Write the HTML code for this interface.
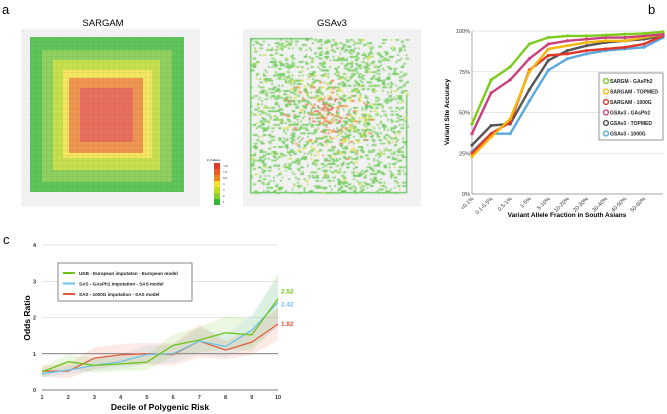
<!DOCTYPE html>
<html><head><meta charset="utf-8">
<style>
body{margin:0;background:#fff;font-family:"Liberation Sans",sans-serif;}
#wrap{position:relative;width:667px;height:414px;overflow:hidden;}
svg{position:absolute;left:0;top:0;}
canvas{position:absolute;left:0;top:0;}
</style></head><body>
<div id="wrap">
<svg id="s" width="667" height="414">
<defs>
<pattern id="gridp" width="5.2" height="5.2" patternUnits="userSpaceOnUse"><path d="M5.2 0V5.2H0" fill="none" stroke="rgba(0,0,0,0.12)" stroke-width="0.6"/></pattern>
<pattern id="gridl" width="4" height="4" patternUnits="userSpaceOnUse"><path d="M4 0V4H0" fill="none" stroke="#e6e6e6" stroke-width="0.5"/></pattern>
</defs>
<text x="2" y="14" font-size="13">a</text>
<text x="648" y="14" font-size="13">b</text>
<text x="3" y="244" font-size="13">c</text>
<text x="103" y="26" font-size="9.5" text-anchor="middle">SARGAM</text>
<text x="332" y="26" font-size="9.5" text-anchor="middle">GSAv3</text>
<g>
<rect x="21" y="29" width="179" height="178" fill="#f3f3f3"/>
<rect x="21" y="29" width="179" height="178" fill="url(#gridl)"/>
<rect x="30" y="37" width="154" height="155" fill="#5fc55a"/>
<rect x="42" y="50" width="130" height="132" fill="#8fd160"/>
<rect x="53" y="60" width="107" height="110" fill="#c6e04f"/>
<rect x="63" y="70" width="89" height="88" fill="#f4e660"/>
<rect x="69" y="78" width="74" height="75" fill="#ef9650"/>
<rect x="80" y="88" width="53" height="54" fill="#e8705e"/>
<rect x="30" y="37" width="154" height="155" fill="url(#gridp)"/>
</g>
<g>
<rect x="243" y="29" width="178" height="178" fill="#f3f3f3"/>
<rect x="243" y="29" width="178" height="178" fill="url(#gridl)"/>
</g>
<g>
<text x="207" y="161" font-size="2.8">#  of alleles</text>
<rect x="214" y="163" width="6" height="6" fill="#e53a2a"/>
<rect x="214" y="169" width="6" height="6" fill="#ea5a22"/>
<rect x="214" y="175" width="6" height="6" fill="#f0851f"/>
<rect x="214" y="181" width="6" height="6" fill="#f7de2a"/>
<rect x="214" y="187" width="6" height="6" fill="#c5dc22"/>
<rect x="214" y="193" width="6" height="6" fill="#8fcf2b"/>
<rect x="214" y="199" width="6" height="6" fill="#2fb635"/>
<g font-size="2.8" fill="#333"><text x="223" y="167">&gt;10</text><text x="223" y="173">7-9</text><text x="223" y="179">5-6</text><text x="223" y="185">4</text><text x="223" y="191">3</text><text x="223" y="197">2</text><text x="223" y="203">1</text></g>
</g>
<g id="gb"></g>
<g id="gc"></g>
</svg>
<canvas id="cv" width="667" height="414"></canvas>
</div>
<script>
// ---- panel b data ----
const bCats=["<0.1%","0.1-0.5%","0.5-1%","1-5%","5-10%","10-20%","20-30%","30-40%","40-50%","50-60%",""];
const bTicks=[0,25,50,75,100];
const bNames=["SARGM - GAsPh2","SARGAM - TOPMED","SARGAM - 1000G","GSAv3 - GAsPh2","GSAv3 - TOPMED","GSAv3 - 1000G"];
const bColors=["#7ccc1c","#f5b60d","#e1362a","#c9417e","#555555","#5aa8de"];
const sGreen=[43,70,78,92,96,97,97,97.5,98,98.5,99.5];
const sOrange=[23,35,46,75,89,91,93,94,94,96,98];
const sRed=[25,37,44,76,85,86,88,89,90,92,97];
const sMagenta=[37,62,70,83,92,94,95,96,96,97,98];
const sGrey=[30,42,43,64,82,88,91,93,94,95,97];
const sBlue=[26,37,37,57,76,83,86,88,89,90,96];
// ---- panel c data ----
const cDeciles=[1,2,3,4,5,6,7,8,9,10];
const cTicks=[0,1,2,3,4];
const cGreen=[0.5,0.78,0.68,0.72,0.77,1.23,1.38,1.58,1.52,2.52];
const cBlue=[0.45,0.55,0.68,0.78,0.98,1.0,1.35,1.2,1.65,2.42];
const cRed=[0.52,0.52,0.88,0.97,1.0,0.98,1.35,1.1,1.32,1.82];
const cGreenErr=[0.15,0.2,0.2,0.2,0.22,0.3,0.35,0.45,0.45,0.7];
const cBlueErr=[0.1,0.12,0.15,0.2,0.25,0.25,0.35,0.3,0.45,0.7];
const cRedErr=[0.15,0.2,0.3,0.3,0.3,0.3,0.45,0.25,0.35,0.45];
const cLabels=["2.52","2.42","1.82"];
const cLegend=["UKB - European imputaton - European model","SAS - GAsPh2 imputation - SAS model","SAS - 1000G imputation - SAS model"];

const NS="http://www.w3.org/2000/svg";
function mk(p,t,a){const e=document.createElementNS(NS,t);for(const k in a)e.setAttribute(k,a[k]);p.appendChild(e);return e;}

// panel b
const gb=document.getElementById('gb');
const bx0=472,bx1=663,by0=194,by1=31;
const bxs=i=>bx0+i*(bx1-bx0)/(bCats.length-1);
const bys=v=>by0+(by1-by0)*v/100;
bTicks.forEach(t=>{
 const l=mk(gb,'line',{x1:bx0,x2:bx1,y1:bys(t),y2:bys(t),stroke:t==0?'#888':'#ddd','stroke-width':0.7});
 
 
 const tx=mk(gb,'text',{x:bx0-2,y:bys(t)+2,'font-size':5.5,'text-anchor':'end',fill:'#333'});tx.textContent=t+'%';
 
 
});
const bax=mk(gb,'line',{x1:bx0,x2:bx0,y1:by1,y2:by0,stroke:'#888','stroke-width':0.7});
bCats.forEach((c,i)=>{if(!c)return;
 const t=mk(gb,'text',{x:bxs(i)+2,y:by0+5,'font-size':5.5,'text-anchor':'end',fill:'#333',transform:`rotate(-45 ${bxs(i)+2} ${by0+5})`});t.textContent=c;
 
 
});
let yt=mk(gb,'text',{x:449,y:112,'font-size':6.5,'font-weight':'bold','text-anchor':'middle',transform:'rotate(-90 449 112)'});yt.textContent='Variant Site Accuracy';

let xt=mk(gb,'text',{x:567,y:217,'font-size':6.5,'font-weight':'bold','text-anchor':'middle'});xt.textContent='Variant Allele Fraction in South Asians';

const bSeries=[sGrey,sBlue,sRed,sOrange,sMagenta,sGreen];
const bSeriesIdx=[4,5,2,1,3,0];
bSeries.forEach((s,k)=>{const ci=bSeriesIdx[k];
 const pl=mk(gb,'polyline',{points:s.map((v,i)=>bxs(i)+','+bys(v)).join(' '),fill:'none',stroke:bColors[ci],'stroke-width':2.4,'stroke-linejoin':'round'});
 
 
 s.forEach((v,i)=>{const c=mk(gb,'circle',{cx:bxs(i),cy:bys(v),r:1.6,fill:bColors[ci]});
  
  });
});
const blg=mk(gb,'rect',{x:599,y:73,width:64,height:67,fill:'#fff',stroke:'#555','stroke-width':0.6});

bNames.forEach((n,i)=>{const y=81+i*10.5;
 const c=mk(gb,'circle',{cx:606,cy:y,r:2.4,fill:'none',stroke:bColors[i],'stroke-width':1.4});
 
 const t=mk(gb,'text',{x:610,y:y+2,'font-size':5,'font-weight':'bold',fill:'#222'});t.textContent=n;
 
});

// panel c
const gc=document.getElementById('gc');
const cx0=42,cx1=278,cy0=390,cy1=245;
const cxs=d=>cx0+(d-1)*(cx1-cx0)/9;
const cys=v=>cy0+(cy1-cy0)*v/4;
cTicks.forEach(t=>{
 if(t>0){const l=mk(gc,'line',{x1:cx0,x2:cx1,y1:cys(t),y2:cys(t),stroke:t==1?'#555':'#ccc','stroke-width':t==1?0.8:0.6});
 }
 const tx=mk(gc,'text',{x:cx0-6,y:cys(t)+2,'font-size':5.5,'font-weight':'bold','text-anchor':'end',fill:'#333'});tx.textContent=t;
 
});
mk(gc,'line',{x1:cx0,x2:cx1,y1:cy0,y2:cy0,stroke:'#555','stroke-width':0.8});
cDeciles.forEach(d=>{const t=mk(gc,'text',{x:cxs(d),y:cy0+9,'font-size':5.5,'font-weight':'bold','text-anchor':'middle',fill:'#333'});t.textContent=d;
 });
yt=mk(gc,'text',{x:30,y:318,'font-size':8.5,'font-weight':'bold','text-anchor':'middle',transform:'rotate(-90 30 318)'});yt.textContent='Odds Ratio';

xt=mk(gc,'text',{x:160,y:410,'font-size':8.5,'font-weight':'bold','text-anchor':'middle'});xt.textContent='Decile of Polygenic Risk';

const cS=[[cGreen,cGreenErr,'#6cc417'],[cBlue,cBlueErr,'#6ec3ea'],[cRed,cRedErr,'#e15a3a']];
cS.forEach(([s,e,col],k)=>{
 const up=s.map((v,i)=>cxs(cDeciles[i])+','+cys(v+e[i]));
 const lo=s.map((v,i)=>cxs(cDeciles[i])+','+cys(Math.max(0,v-e[i]))).reverse();
 const b=mk(gc,'polygon',{points:up.concat(lo).join(' '),fill:col,'fill-opacity':0.13});
 
});
cS.slice().reverse().forEach(([s,e,col],k)=>{
 const pl=mk(gc,'polyline',{points:s.map((v,i)=>cxs(cDeciles[i])+','+cys(v)).join(' '),fill:'none',stroke:col,'stroke-width':1.3});
 
});
const cLabY=[cGreen[9],cBlue[9],cRed[9]];
cS.forEach(([s,e,col],k)=>{const t=mk(gc,'text',{x:281,y:cys(cLabY[k])+(k==0?-5:k==1?+4:+2),'font-size':6.5,'font-weight':'bold',fill:col});t.textContent=cLabels[k];
 });
const clg=mk(gc,'rect',{x:58,y:263,width:134,height:38,fill:'#fff',stroke:'#555','stroke-width':0.7});

cLegend.forEach((n,i)=>{const y=273+i*10.5;
 mk(gc,'line',{x1:63,x2:75,y1:y,y2:y,stroke:cS[i][2],'stroke-width':2});
 const t=mk(gc,'text',{x:79,y:y+2,'font-size':4.6,'font-weight':'bold',fill:'#222'});t.textContent=n;
 
});

// GSAv3 scatter (texture)
const ctx=document.getElementById('cv').getContext('2d');
let seed=7;function rnd(){seed=(seed*16807)%2147483647;return seed/2147483647;}
ctx.fillStyle='#5fc55a';
ctx.fillRect(250,38,1.3,155);ctx.fillRect(250,192,157,1.3);ctx.fillRect(250,38,63,1.3);ctx.fillRect(406,95,1.3,98);
for(let gx=251;gx<406;gx+=1.7){for(let gy=39;gy<192;gy+=1.7){
 const dx=(gx-328)/78,dy=(gy-115)/78,d=Math.sqrt(dx*dx+dy*dy);
 const p=0.34-0.16*Math.min(d,1.3);
 if(rnd()<p){const r=rnd();let c='#6cc95a';
  if(d<0.25&&r<0.6)c=r<0.35?'#e96a5a':'#f3a04a';else if(d<0.6&&r<0.25)c=r<0.1?'#eb8a5a':'#e7de4e';else if(r<0.08)c='#d5e055';else if(r<0.5)c='#84d46a';
  ctx.fillStyle=c;ctx.fillRect(gx,gy,rnd()<0.5?1.7:3.4,1.7);}
}}
</script>
</body></html>
